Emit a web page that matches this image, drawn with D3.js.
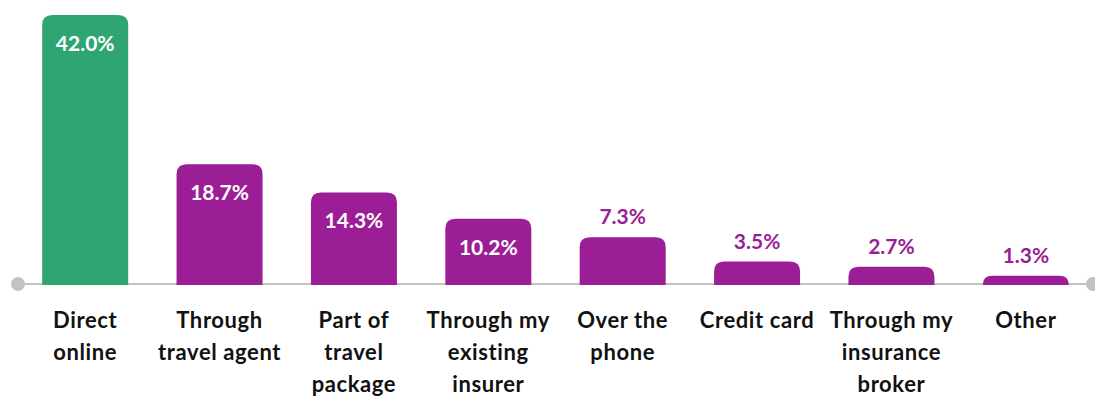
<!DOCTYPE html>
<html><head><meta charset="utf-8">
<script src="https://cdn.jsdelivr.net/npm/d3@7"></script>
<style>body{margin:0;background:#fff}svg{display:block}</style>
</head><body>
<script>
const categories = ["Direct online","Through travel agent","Part of travel package","Through my existing insurer","Over the phone","Credit card","Through my insurance broker","Other"];
const categoryLines = [["Direct","online"],["Through","travel agent"],["Part of","travel","package"],["Through my","existing","insurer"],["Over the","phone"],["Credit card"],["Through my","insurance","broker"],["Other"]];
const values = [42.0,18.7,14.3,10.2,7.3,3.5,2.7,1.3];
const labels = ["42.0%","18.7%","14.3%","10.2%","7.3%","3.5%","2.7%","1.3%"];

const W=1095,H=396;
const svg=d3.select("body").append("svg").attr("width",W).attr("height",H);
const axisY=284;
const x=d3.scaleBand().domain(categories).range([18,1093]).paddingInner(0.36).paddingOuter(0.18);
const y=d3.scaleLinear().domain([0,42]).range([axisY,15]);
const green="#30a574", purple="#9b1e96";
const font="Lato, 'Open Sans', sans-serif";
const r=10;

svg.append("line").attr("x1",18).attr("x2",1093).attr("y1",axisY).attr("y2",axisY).attr("stroke","#c3c3c3").attr("stroke-width",2);
svg.append("circle").attr("cx",18).attr("cy",axisY).attr("r",7).attr("fill","#c3c3c3");
svg.append("circle").attr("cx",1093).attr("cy",axisY).attr("r",7).attr("fill","#c3c3c3");

function barPath(d,i){
  const x0=x(categories[i]), w=x.bandwidth(), y0=y(d), yb=axisY+1;
  const rr=Math.min(r,(yb-y0));
  return `M${x0},${yb}V${y0+rr}Q${x0},${y0} ${x0+rr},${y0}H${x0+w-rr}Q${x0+w},${y0} ${x0+w},${y0+rr}V${yb}Z`;
}
svg.selectAll("path.bar").data(values).enter().append("path").attr("class","bar")
  .attr("d",barPath).attr("fill",(d,i)=>i===0?green:purple);

svg.selectAll("text.val").data(values).enter().append("text").attr("class","val")
  .attr("x",(d,i)=>x(categories[i])+x.bandwidth()/2)
  .attr("y",d=>d>=10?y(d)+36:y(d)-13)
  .attr("text-anchor","middle").attr("font-family",font).attr("font-weight","bold").attr("font-size",21)
  .attr("fill",d=>d>=10?"#fff":purple)
  .text((d,i)=>labels[i]);

const g=svg.selectAll("text.cat").data(categoryLines).enter().append("text").attr("class","cat")
  .attr("text-anchor","middle").attr("font-family",font).attr("font-weight","bold").attr("font-size",22)
  .attr("letter-spacing",0.6).attr("fill","#111");
g.each(function(lines,i){
  const t=d3.select(this);
  lines.forEach((l,j)=>t.append("tspan").attr("x",x(categories[i])+x.bandwidth()/2).attr("y",328+j*32).text(l));
});
</script>
</body></html>
